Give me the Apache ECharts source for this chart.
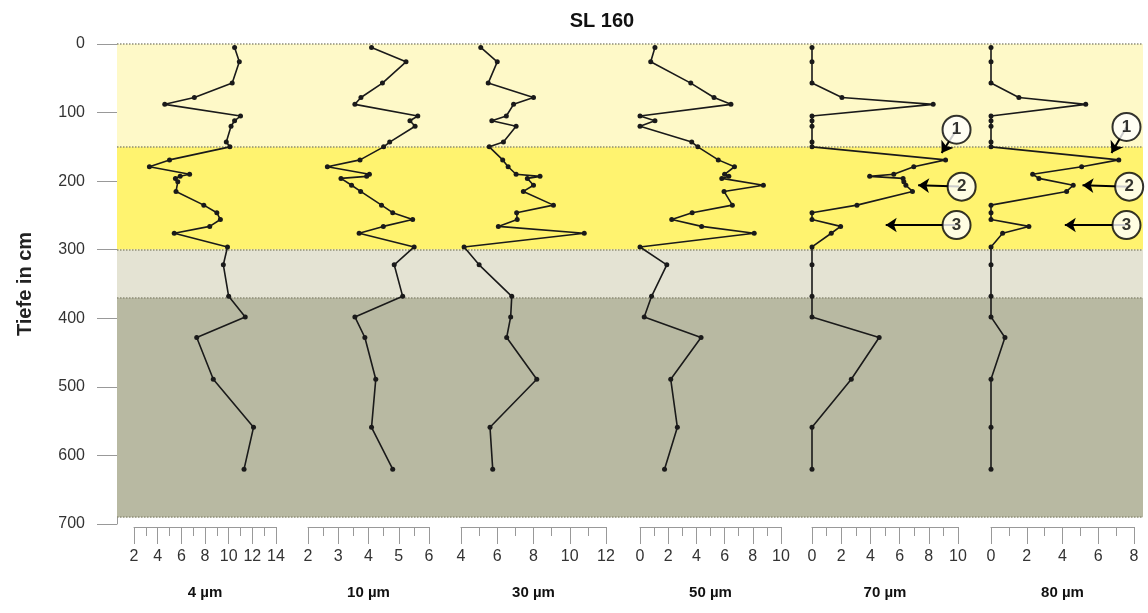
<!DOCTYPE html>
<html>
<head>
<meta charset="utf-8">
<script src="https://cdn.jsdelivr.net/npm/echarts@6/dist/echarts.min.js"></script>
<style>
html,body{margin:0;padding:0;background:#fff;}
#chart{width:1148px;height:613px;}
</style>
</head>
<body>
<div id="chart"></div>
<script>
// ---- data (depth in cm, values per grain-size fraction) ----
const depths = [5, 26, 57, 78, 88, 105, 112, 120, 143, 150, 169, 179, 190, 193, 196, 201, 206, 215, 235, 246, 256, 266, 276, 296, 322, 368, 398, 428, 489, 559, 620];
const um4  = [10.5, 10.9, 10.3, 7.1, 4.6, 11.0, 10.5, 10.2, 9.8, 10.1, 5.0, 3.3, 6.7, 5.9, 5.5, 5.7, null, 5.55, 7.9, 9.0, 9.3, 8.4, 5.4, 9.9, 9.55, 10.0, 11.4, 7.3, 8.7, 12.1, 11.3];
const um10 = [4.1, 5.24, 4.46, 3.75, 3.55, 5.63, 5.37, 5.54, 4.7, 4.5, 3.72, 2.64, 4.03, 3.94, 3.09, null, 3.44, 3.74, 4.43, 4.8, 5.46, 4.49, 3.69, 5.51, 4.85, 5.13, 3.55, 3.88, 4.24, 4.1, 4.8];
const um30 = [5.09, 6.0, 5.5, 8.0, 6.9, 6.5, 5.7, 7.04, 6.34, 5.56, 6.3, 6.6, 7.04, 8.36, 7.66, null, 8.0, 7.44, 9.1, 7.07, 7.1, 6.06, 10.8, 4.17, 5.0, 6.8, 6.74, 6.52, 8.18, 5.6, 5.75];
const um50 = [1.06, 0.76, 3.6, 5.25, 6.45, 0, 1.06, 0, 3.67, 4.1, 5.55, 6.7, 6.0, 6.3, 5.8, null, 8.75, 5.96, 6.55, 3.7, 2.25, 4.37, 8.1, 0, 1.9, 0.82, 0.3, 4.33, 2.18, 2.65, 1.74];
const um70 = [0, 0, 0, 2.05, 8.3, 0, 0, 0, 0, 0, 9.15, 6.97, 5.6, 3.95, 6.24, 6.29, 6.43, 6.88, 3.08, 0, 0, 1.96, 1.32, 0, 0, 0, 0, 4.6, 2.69, 0, 0];
const um80 = [0, 0, 0, 1.56, 5.3, 0, 0, 0, 0, 0, 7.15, 5.07, 2.33, null, 2.68, null, 4.6, 4.23, 0, 0, 0, 2.12, 0.65, 0, 0, 0, 0, 0.78, 0, 0, 0];

const seriesNames = ['4 µm', '10 µm', '30 µm', '50 µm', '70 µm', '80 µm'];
const seriesValues = [um4, um10, um30, um50, um70, um80];
// axis ranges [min, max, label interval]
const axisMin = [2, 2, 4, 0, 0, 0];
const axisMax = [14, 6, 12, 10, 10, 8];
const axisStep = [2, 1, 2, 2, 2, 2];
const depthTicks = [0, 100, 200, 300, 400, 500, 600, 700];

// sediment layers [from, to] in cm
const layerFrom = [0, 150, 300, 370];
const layerTo = [150, 300, 370, 690];
const layerColors = ['#FEF9C8', '#FFF36F', '#E4E3D3', '#B8B9A2'];

// annotations: panel index, label, circle position, arrow tip (data units)
const annoPanel = [4, 4, 4, 5, 5, 5];
const annoLabel = ['1', '2', '3', '1', '2', '3'];
const annoCircle = [[9.9, 125], [10.25, 208], [9.9, 264], [7.58, 121], [7.73, 208], [7.58, 264]];
const annoTip = [[8.88, 159], [7.27, 206], [5.05, 264], [6.74, 159], [5.12, 206], [4.13, 264]];

// ---- layout ----
const panelLeft = [134, 308, 461, 640, 812, 991];
const panelWidth = [142, 121, 145, 141, 146, 143];
const TOP = 44, HEIGHT = 480;

const grids = [], xAxes = [], yAxes = [], series = [];
const font = 'Arial, "Liberation Sans", sans-serif';

for (let i = 0; i < 6; i++) {
  grids.push({left: panelLeft[i], width: panelWidth[i], top: TOP, height: HEIGHT});
  xAxes.push({
    gridIndex: i, type: 'value', min: axisMin[i], max: axisMax[i], interval: axisStep[i],
    position: 'bottom', offset: 3, z: 10,
    axisLine: {show: true, onZero: false, lineStyle: {color: '#999', width: 1}},
    axisTick: {show: true, inside: false, length: 17, lineStyle: {color: '#999'}},
    minorTick: {show: true, splitNumber: 2, length: 9, lineStyle: {color: '#999'}},
    splitLine: {show: false},
    axisLabel: {margin: 22, fontSize: 16, color: '#333', fontFamily: font, hideOverlap: false, showMinLabel: true, showMaxLabel: true},
    name: seriesNames[i], nameLocation: 'middle', nameGap: 58,
    nameTextStyle: {fontWeight: 'bold', fontSize: 15, color: '#111', fontFamily: font}
  });
  yAxes.push({gridIndex: i, type: 'value', min: 0, max: 700, inverse: true, show: false});
  const vals = seriesValues[i];
  const pts = [];
  depths.forEach((d, k) => { if (vals[k] !== null) pts.push([vals[k], d]); });
  series.push({
    type: 'line', xAxisIndex: i, yAxisIndex: i, data: pts, z: 5,
    symbol: 'circle', symbolSize: 5, showSymbol: true,
    lineStyle: {color: '#1a1a1a', width: 1.6},
    itemStyle: {color: '#1a1a1a'},
    animation: false, clip: false
  });
}

// background grid (index 6)
grids.push({left: 117, right: 5, top: TOP, height: HEIGHT});
xAxes.push({gridIndex: 6, type: 'value', min: 0, max: 1, show: false});
yAxes.push({
  gridIndex: 6, type: 'value', min: 0, max: 700, interval: 100, inverse: true,
  axisLine: {show: true, onZero: false, lineStyle: {color: '#999'}},
  axisTick: {show: true, inside: false, length: 20, lineStyle: {color: '#999'}},
  splitLine: {show: false},
  axisLabel: {margin: 32, fontSize: 16, color: '#333', fontFamily: font},
  name: 'Tiefe in cm', nameLocation: 'middle', nameGap: 82,
  nameTextStyle: {fontWeight: 'bold', fontSize: 20, color: '#222', fontFamily: font}
});
series.push({
  type: 'scatter', xAxisIndex: 6, yAxisIndex: 6, data: [[0, 0]], symbolSize: 0, z: 1, silent: true,
  markArea: {
    silent: true,
    data: layerFrom.map((f, k) => [{yAxis: f, itemStyle: {color: layerColors[k]}}, {yAxis: layerTo[k]}])
  },
  markLine: {
    silent: true, symbol: 'none', label: {show: false},
    lineStyle: {type: 'dotted', color: '#8f8f78', width: 1.5},
    data: layerFrom.concat([layerTo[layerTo.length - 1]]).map(v => ({yAxis: v}))
  },
  animation: false
});

// annotations
for (let p = 4; p <= 5; p++) {
  const idx = annoPanel.map((v, k) => v === p ? k : -1).filter(k => k >= 0);
  series.push({
    type: 'lines', coordinateSystem: 'cartesian2d', xAxisIndex: p, yAxisIndex: p, z: 6,
    symbol: ['none', 'arrow'], symbolSize: 11,
    lineStyle: {color: '#000', width: 2, opacity: 1},
    data: idx.map(k => ({coords: [annoCircle[k], annoTip[k]]})),
    animation: false
  });
  series.push({
    type: 'scatter', xAxisIndex: p, yAxisIndex: p, z: 7, clip: false,
    symbol: 'circle', symbolSize: 28,
    itemStyle: {color: '#fff', borderColor: '#000', borderWidth: 2},
    label: {show: true, position: 'inside', formatter: d => d.name, fontWeight: 'bold', fontSize: 17, color: '#000', fontFamily: font},
    data: idx.map(k => ({name: annoLabel[k], value: annoCircle[k]})),
    animation: false
  });
}

const chart = echarts.init(document.getElementById('chart'), null, {renderer: 'canvas'});
chart.setOption({
  animation: false,
  backgroundColor: '#fff',
  title: {text: 'SL 160', left: 597, textAlign: 'center', top: 6,
    textStyle: {fontSize: 20, fontWeight: 'bold', color: '#111', fontFamily: font}},
  grid: grids, xAxis: xAxes, yAxis: yAxes, series: series
});
</script>
</body>
</html>
